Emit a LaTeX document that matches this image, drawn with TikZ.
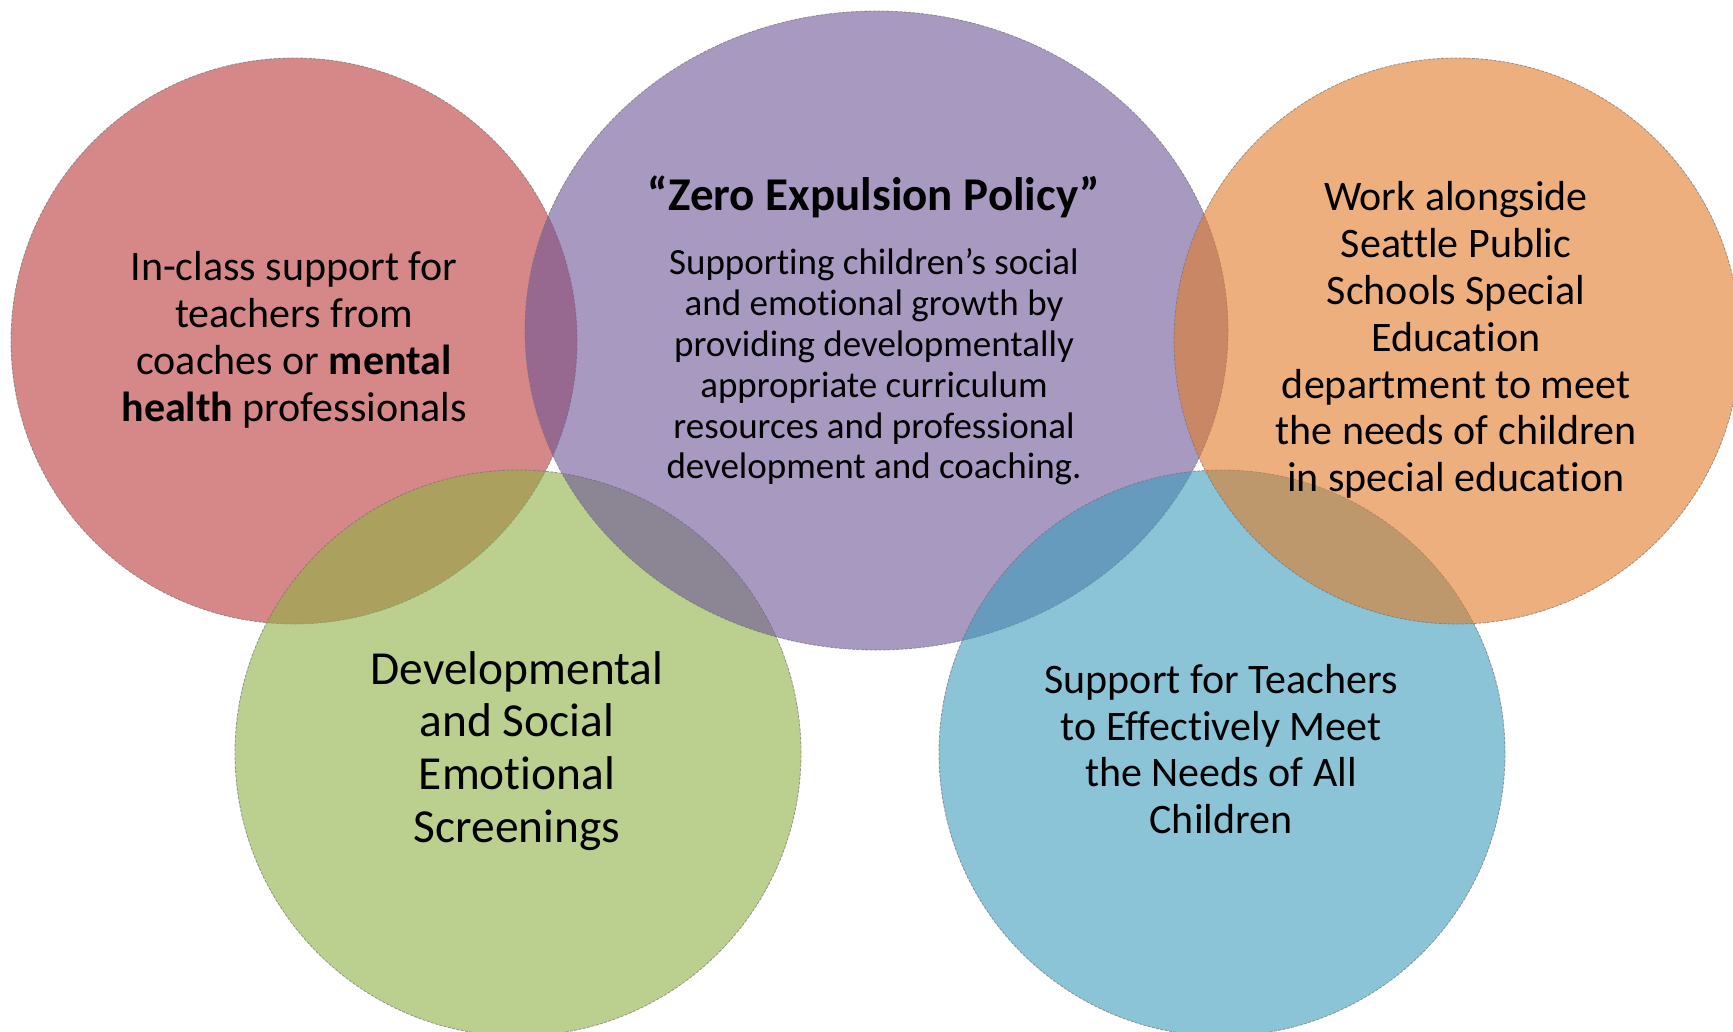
\documentclass[tikz,border=0pt]{standalone}
\usepackage{fontspec}
\setmainfont{Carlito}[Ligatures=NoCommon]
\usetikzlibrary{shapes.geometric}
\definecolor{redc}{RGB}{188,55,55}
\definecolor{greenc}{RGB}{143,177,67}
\definecolor{purplec}{RGB}{110,85,153}
\definecolor{bluec}{RGB}{60,157,187}
\definecolor{orangec}{RGB}{225,123,40}
\begin{document}
\begin{tikzpicture}[x=0.5pt,y=-0.5pt,
  bubble/.style={ellipse, inner sep=0pt, outer sep=0pt, fill opacity=0.6,
    draw=black!55, draw opacity=0.7, line width=0.4pt, dash pattern=on 1.5pt off 0.7pt},
  txtmid/.style={align=center, text=black, font=\fontsize{21}{23.4}\selectfont},
  txtsmall/.style={align=center, text=black, font=\fontsize{18.5}{20.4}\selectfont},
  txtbig/.style={align=center, text=black, font=\fontsize{23.7}{26.4}\selectfont},
  txttitle/.style={align=center, text=black, font=\bfseries\fontsize{23.5}{26}\selectfont},
]
\useasboundingbox[fill=white] (0,0) rectangle (1733,1032);
% circles, in stacking order
\node[bubble, fill=redc, minimum width=283pt, minimum height=283pt] (red) at (294,341) {};
\node[bubble, fill=greenc, minimum width=283pt, minimum height=283pt] (green) at (518,753) {};
\node[bubble, fill=purplec, minimum width=351.5pt, minimum height=319.5pt] (purple) at (876.5,330.5) {};
\node[bubble, fill=bluec, minimum width=283pt, minimum height=283pt] (blue) at (1222,753) {};
\node[bubble, fill=orangec, minimum width=283pt, minimum height=283pt] (orange) at (1457,341) {};
% texts
\node[txtmid] (tred) at (294,340) {In-class support for\\teachers from\\coaches or \textbf{mental}\\\textbf{health} professionals};
\node[txttitle] (ttitle) at (874,197) {“Zero Expulsion Policy”};
\node[txtsmall] (tpurple) at (874,367) {Supporting children’s social\\and emotional growth by\\providing developmentally\\appropriate curriculum\\resources and professional\\development and coaching.};
\node[txtmid] (torange) at (1456,340) {Work alongside\\Seattle Public\\Schools Special\\Education\\department to meet\\the needs of children\\in special education};
\node[txtbig] (tgreen) at (517,751) {Developmental\\and Social\\Emotional\\Screenings};
\node[txtmid] (tblue) at (1221,749) {Support for Teachers\\to Effectively Meet\\the Needs of All\\Children};
\end{tikzpicture}
\end{document}
